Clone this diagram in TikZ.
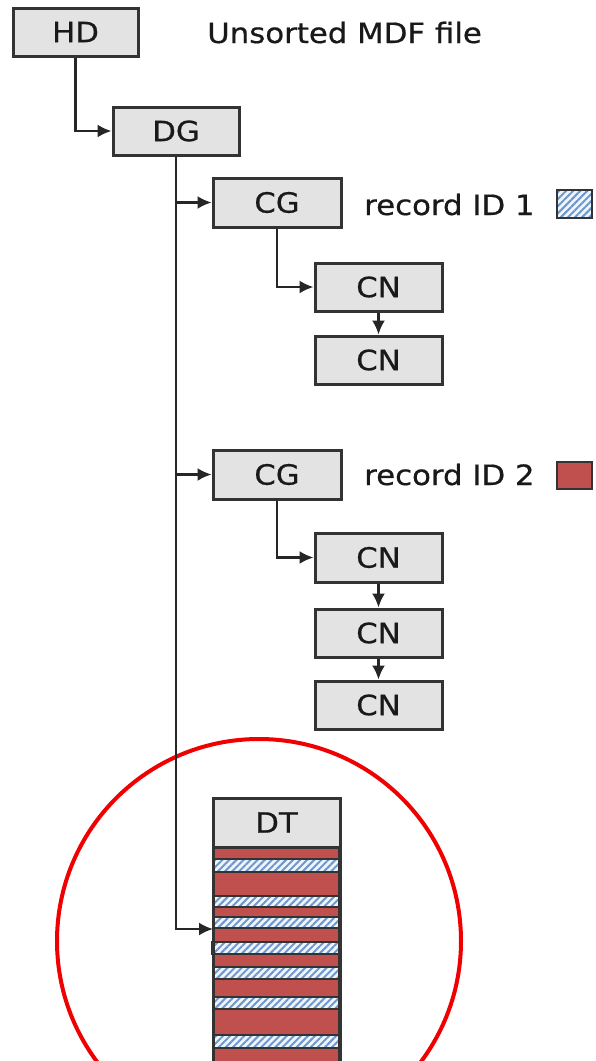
\documentclass[tikz,border=0pt]{standalone}
\usepackage{fontspec}
\setmainfont{DejaVu Sans}[FakeStretch=1.1,FakeBold=0.6]
\usetikzlibrary{arrows.meta,patterns.meta}
\definecolor{boxfill}{HTML}{E3E3E3}
\definecolor{boxline}{HTML}{333333}
\definecolor{recred}{HTML}{C0504D}
\definecolor{hatchbg}{HTML}{F0F5FB}
\definecolor{hatchfg}{HTML}{6C98CF}
\definecolor{ringred}{HTML}{F00000}
\tikzset{
  blk/.style={draw=boxline, fill=boxfill, line width=3pt, minimum height=48pt, inner sep=0pt, font=\fontsize{28}{32}\selectfont, text=black!90},
  wideblk/.style={blk, minimum width=126pt},
  lbl/.style={anchor=base west, inner sep=0pt, font=\fontsize{28}{32}\selectfont, text=black!90},
  conn/.style={line width=2.2pt, draw=black!85, -{Latex[length=14pt,width=13pt]}},
  redstripe/.style={draw=boxline, line width=1.5pt, fill=recred},
  hatchlines/.style={pattern={Lines[angle=45,distance=5pt,line width=2pt]}, pattern color=hatchfg}
}
\begin{document}
\begin{tikzpicture}[x=1pt,y=-1pt]
\useasboundingbox (0,0) rectangle (595,1061);
\clip (0,0) rectangle (595,1061);

% ring
\draw[ringred, line width=4pt] (259,941) circle[radius=202];

% nodes
\node[wideblk, minimum width=125pt] (HD) at (75.5,32) {HD};
\node[lbl] (title) at (207,43) {Unsorted MDF file};
\node[wideblk] (DG) at (176,131) {DG};
\node[wideblk, minimum width=128pt, minimum height=49pt] (CG1) at (277,202.5) {CG};
\node[lbl] (rid1) at (364,215) {record ID 1};
\node[wideblk, minimum width=127pt] (CN1) at (378.5,287) {CN};
\node[wideblk, minimum width=127pt] (CN2) at (378.5,360) {CN};
\node[wideblk, minimum width=128pt, minimum height=49pt] (CG2) at (277,474.5) {CG};
\node[lbl] (rid2) at (364,485) {record ID 2};
\node[wideblk, minimum width=127pt, minimum height=49pt] (CN3) at (378.5,557.5) {CN};
\node[wideblk, minimum width=127pt] (CN4) at (378.5,633) {CN};
\node[wideblk, minimum width=127pt] (CN5) at (378.5,705) {CN};

% legend swatches
\fill[hatchbg] (557,190) rectangle (592,218);
\fill[hatchlines] (557,190) rectangle (592,218);
\draw[boxline, line width=1.8pt] (557,190) rectangle (592,218);
\filldraw[redstripe, line width=1.8pt] (557,462) rectangle (592,489);

% DT stripes
\foreach \ya/\yb in {847/859, 872/896, 907/917, 928/942, 954/967, 979/997, 1009/1035, 1048/1075}{
  \filldraw[redstripe] (214,\ya) rectangle (339,\yb);
}
\foreach \ya/\yb/\xa in {859/872/214, 896/907/214, 917/928/214, 942/954/212, 967/979/214, 997/1009/214, 1035/1048/214}{
  \fill[hatchbg] (\xa,\ya) rectangle (339,\yb);
  \fill[hatchlines] (\xa,\ya) rectangle (339,\yb);
  \draw[boxline, line width=1.5pt] (\xa,\ya) rectangle (339,\yb);
}
\draw[boxline, line width=3pt] (213,847) -- (213,1075) (340,847) -- (340,1075);
\node[wideblk, minimum width=127pt, minimum height=49pt] (DT) at (276.5,822.5) {DT};
\coordinate (dtin) at (213,929);

% connectors
\draw[conn] (HD.south) |- (DG.west);
\draw[conn] (DG.south) |- (CG1.west);
\draw[conn] (DG.south) |- (CG2.west);
\draw[conn] (DG.south) |- (dtin);
\draw[conn] (CG1.south) |- (CN1.west);
\draw[conn] (CN1.south) -- (CN2.north);
\draw[conn] (CG2.south) |- (CN3.west);
\draw[conn] (CN3.south) -- (CN4.north);
\draw[conn] (CN4.south) -- (CN5.north);
\end{tikzpicture}
\end{document}
